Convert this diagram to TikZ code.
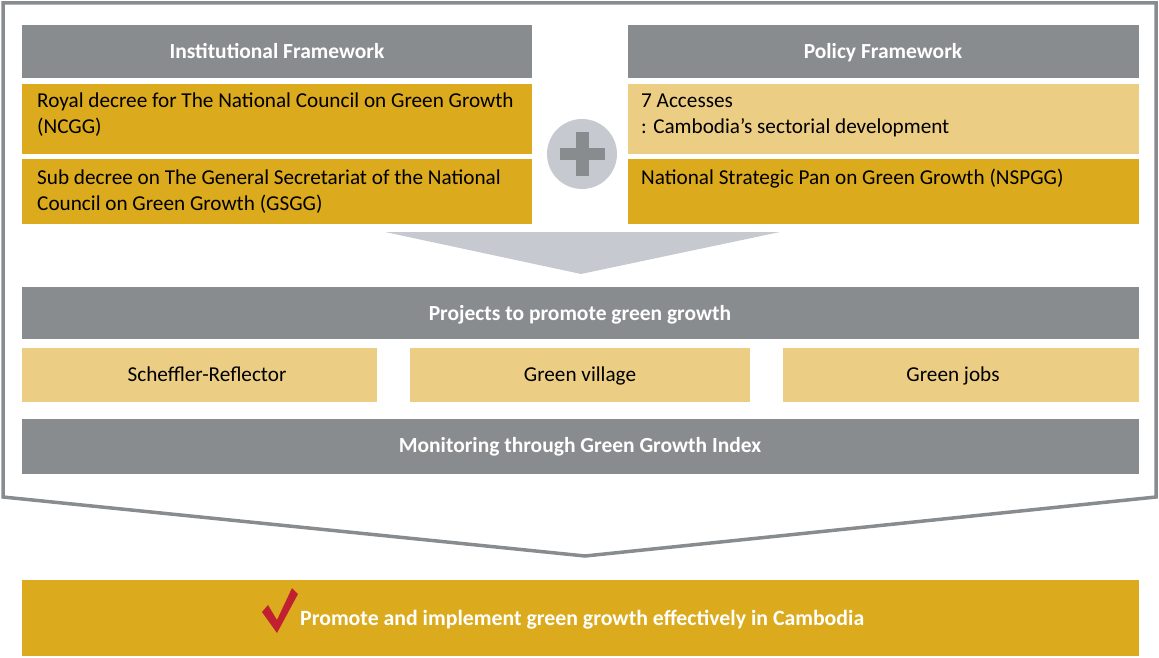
\documentclass[tikz,border=0pt]{standalone}
\usepackage{fontspec}
\setmainfont{Carlito}
\definecolor{hdr}{HTML}{898C8E}
\definecolor{gold}{HTML}{DBAA1D}
\definecolor{lgold}{HTML}{EBCD84}
\definecolor{pale}{HTML}{C6CAD0}
\definecolor{chk}{HTML}{C0202F}
\begin{document}
\begin{tikzpicture}[x=1pt,y=-1pt,
  bodytext/.style={anchor=base west,inner sep=0pt,font=\fontsize{21.2}{26}\selectfont,text=black},
  ctext/.style={anchor=base,inner sep=0pt,font=\fontsize{21.2}{26}\selectfont,text=black},
  htext/.style={anchor=base,inner sep=0pt,text=white,font=\bfseries\fontsize{21.5}{26}\selectfont}]
\useasboundingbox (0,0) rectangle (1159,658);
% outer outline
\coordinate (oa) at (3,3);
\coordinate (ob) at (1156,3);
\coordinate (oc) at (1156,497);
\coordinate (od) at (585,556);
\coordinate (oe) at (3,497);
\draw[hdr,line width=3.5pt,line join=miter] (oa) -- (ob) -- (oc) -- (od) -- (oe) -- cycle;
% left column
\fill[hdr] (22,25) rectangle (532,78);
\node[htext] (ih) at (277,58.5) {Institutional Framework};
\fill[gold] (22,84) rectangle (532,154);
\node[bodytext] (r1a) at (37,108) {Royal decree for The National Council on Green Growth};
\node[bodytext] (r1b) at (37,134) {(NCGG)};
\fill[gold] (22,159) rectangle (532,224);
\node[bodytext] (r2a) at (37,184) {Sub decree on The General Secretariat of the National};
\node[bodytext] (r2b) at (37,210) {Council on Green Growth (GSGG)};
% right column
\fill[hdr] (628,25) rectangle (1139,78);
\node[htext] (ph) at (883,58.5) {Policy Framework};
\fill[lgold] (628,84) rectangle (1139,154);
\node[bodytext] (p1a) at (641,108) {7 Accesses};
\node[bodytext] (p1b) at (641,134) {: Cambodia’s sectorial development};
\fill[gold] (628,159) rectangle (1139,224);
\node[bodytext] (p2) at (641,184) {National Strategic Pan on Green Growth (NSPGG)};
% plus
\fill[pale] (582,154) circle (35);
\fill[hdr] (560,148) rectangle (605,160);
\fill[hdr] (576,132) rectangle (589,176);
% triangle
\fill[pale] (385,232) -- (780,232) -- (581,274) -- cycle;
% projects
\fill[hdr] (22,287) rectangle (1139,339);
\node[htext] (pr) at (580,320) {Projects to promote green growth};
\fill[lgold] (22,348) rectangle (377,402);
\node[ctext] (s1) at (207,381) {Scheffler-Reflector};
\fill[lgold] (410,348) rectangle (750,402);
\node[ctext] (s2) at (580,381) {Green village};
\fill[lgold] (783,348) rectangle (1139,402);
\node[ctext] (s3) at (953,381) {Green jobs};
\fill[hdr] (22,419) rectangle (1139,474);
\node[htext] (mo) at (580,452) {Monitoring through Green Growth Index};
% result
\fill[gold] (22,580) rectangle (1139,656);
\fill[chk] (262,612) -- (268,605) -- (277,620) -- (292,588) -- (298,594) -- (277,633) -- cycle;
\node[htext,anchor=base west,font=\bfseries\fontsize{21.8}{26}\selectfont] (res) at (300,625) {Promote and implement green growth effectively in Cambodia};
\end{tikzpicture}
\end{document}
